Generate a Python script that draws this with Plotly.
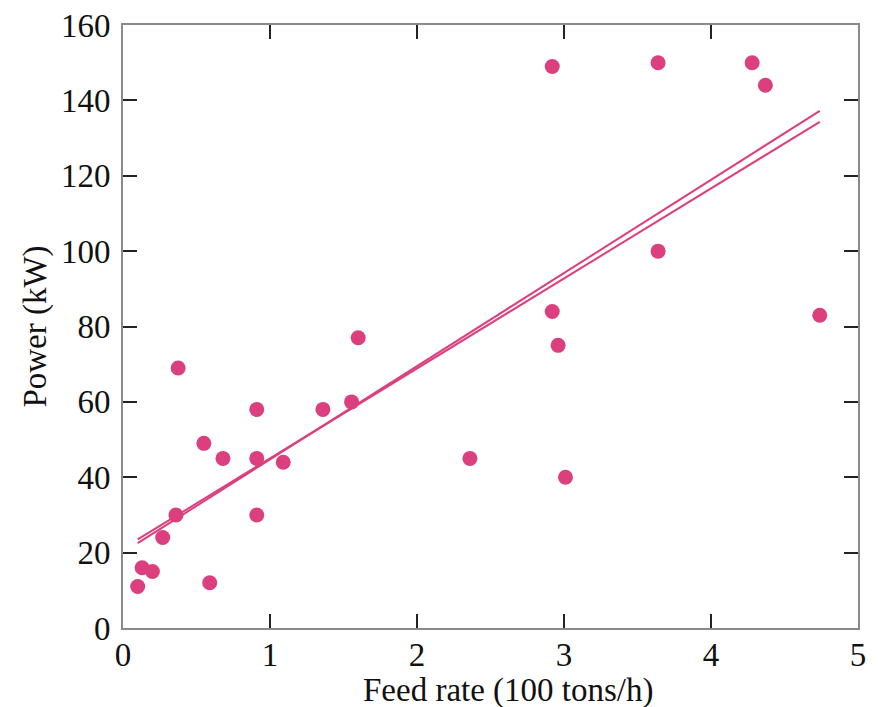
import plotly.graph_objects as go

feed_rate = [0.10, 0.13, 0.20, 0.27, 0.36, 0.375, 0.55, 0.59, 0.68, 0.91, 0.91, 0.91,
             1.09, 1.36, 1.555, 1.60, 2.36, 2.92, 2.92, 2.96, 3.01, 3.64, 3.64, 4.28,
             4.37, 4.74]
power = [11, 16, 15, 24, 30, 69, 49, 12, 45, 58, 45, 30,
         44, 58, 60, 77, 45, 149, 84, 75, 40, 150, 100, 150,
         144, 83]

# fitted lines: endpoints in x, values at those x
fit_x = [0.10, 4.74]
fit_a_y = [22.5, 137.2]
fit_b_y = [23.5, 134.3]

x_ticks = [0, 1, 2, 3, 4, 5]
y_ticks = [0, 20, 40, 60, 80, 100, 120, 140, 160]

color = "#DC3F7E"
font = "Liberation Serif, Times New Roman, serif"

fig = go.Figure()
fig.add_trace(go.Scatter(x=fit_x, y=fit_a_y, mode="lines",
                         line=dict(color=color, width=2), showlegend=False))
fig.add_trace(go.Scatter(x=fit_x, y=fit_b_y, mode="lines",
                         line=dict(color=color, width=2), showlegend=False))
fig.add_trace(go.Scatter(x=feed_rate, y=power, mode="markers",
                         marker=dict(color=color, size=15), showlegend=False))

axis_common = dict(
    showgrid=False, zeroline=False, showline=True, linecolor="#8a8a8a", linewidth=2,
    mirror="ticks", ticks="inside", ticklen=14, tickwidth=1.5, tickcolor="#222",
    tickfont=dict(family=font, size=33, color="#111"),
    ticklabeloverflow="allow", automargin=False,
)

fig.update_layout(
    width=870, height=699,
    margin=dict(l=115, r=20, t=17, b=79),
    paper_bgcolor="white", plot_bgcolor="white",
    font=dict(family=font, size=33, color="#111"),
    xaxis=dict(range=[0, 5], tickvals=x_ticks, ticktext=[str(v) for v in x_ticks],
               ticklabelstandoff=-4, **axis_common),
    yaxis=dict(range=[0, 160], tickvals=y_ticks, ticktext=[str(v) for v in y_ticks],
               title=dict(text="Power (kW)", font=dict(family=font, size=33), standoff=4),
               ticklabelstandoff=4, **axis_common),
    annotations=[dict(text="Feed rate (100 tons/h)", xref="paper", yref="paper",
                      x=0.524, y=-0.103, xanchor="center", yanchor="middle",
                      showarrow=False, font=dict(family=font, size=33, color="#111"))],
)

fig.write_html("out.html")
